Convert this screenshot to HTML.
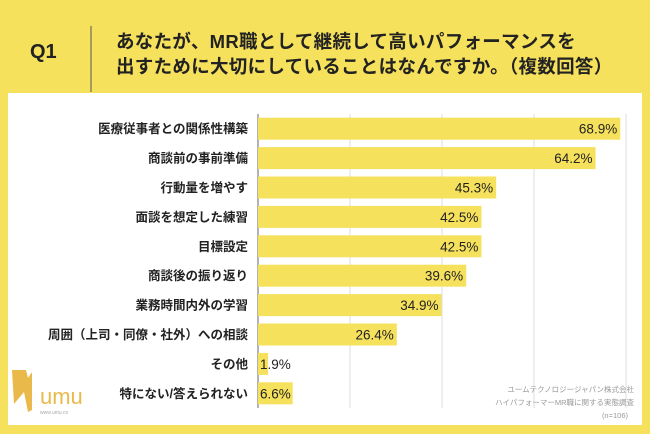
<!DOCTYPE html>
<html><head><meta charset="utf-8">
<style>
body{margin:0;width:650px;height:434px;overflow:hidden;background:#f6e15c;font-family:"Liberation Sans","Noto Sans CJK JP",sans-serif;}
svg{display:block}
</style></head><body>
<svg width="650" height="434" xmlns="http://www.w3.org/2000/svg">
<rect x="0" y="0" width="650" height="434" fill="#f6e15c"/>
<text x="30" y="58" font-size="20" font-weight="bold" fill="#222">Q1</text>
<line x1="91" y1="26" x2="91" y2="92" stroke="#555" stroke-width="1"/>
<text x="116" y="48" font-size="18.5" font-weight="bold" fill="#222" letter-spacing="0.3">あなたが、MR職として継続して高いパフォーマンスを</text>
<text x="116" y="73" font-size="18.5" font-weight="bold" fill="#222" letter-spacing="0.3">出すために大切にしていることはなんですか。（複数回答）</text>
<rect x="8" y="93" width="634" height="332" fill="#fff"/>
<g id="grid"></g><g id="bars"></g>
<g>
<path d="M12 370 L26 370 L28 378 L32 372 L32 410 L28 412 L24 392 L14 404 Z" fill="#e9b94a"/>
<text x="40" y="404" font-size="22" fill="#e9b94a">umu</text>
<text x="40" y="414" font-size="5" fill="#aaa">www.umu.co</text>
</g>
<text x="634" y="392" font-size="7.5" fill="#999" text-anchor="end">ユームテクノロジージャパン株式会社</text>
<text x="634" y="405" font-size="7.5" fill="#999" text-anchor="end">ハイパフォーマーMR職に関する実態調査</text>
<text x="628" y="418" font-size="7.5" fill="#999" text-anchor="end">(n=106)</text>
</svg>
<script>
const categories=["医療従事者との関係性構築","商談前の事前準備","行動量を増やす","面談を想定した練習","目標設定","商談後の振り返り","業務時間内外の学習","周囲（上司・同僚・社外）への相談","その他","特にない/答えられない"];
const values=[68.9,64.2,45.3,42.5,42.5,39.6,34.9,26.4,1.9,6.6];
const ticks=[0,17.5,35,52.5,70];
const NS="http://www.w3.org/2000/svg";
const x0=258,x1=626,xmax=70,y0=114,rowH=29.4,barH=22;
const xs=v=>x0+(x1-x0)*v/xmax;
const ys=i=>y0+i*rowH;
function mk(t,a,p){const e=document.createElementNS(NS,t);for(const k in a)e.setAttribute(k,a[k]);p.appendChild(e);return e;}
const g=document.getElementById('grid'),b=document.getElementById('bars');
ticks.forEach((t,i)=>{const l=mk('line',{x1:xs(t),x2:xs(t),y1:y0,y2:ys(categories.length)},g);
l.setAttribute('stroke',i==0?'#666':'#ddd');

});
categories.forEach((c,i)=>{const y=ys(i)+(rowH-barH)/2;
const r=mk('rect',{x:x0,y:y,width:xs(values[i])-x0,height:barH,fill:'#f6e15c'},b);


const lb=mk('text',{x:248,y:y+barH/2+4.5,'font-size':12.5,'font-weight':'bold',fill:'#222','text-anchor':'end'},b);lb.textContent=c;


const small=values[i]<10;
const v=mk('text',{x:small?x0+2:xs(values[i])-3,y:y+barH/2+5,'font-size':13.5,fill:'#222','text-anchor':small?'start':'end'},b);v.textContent=values[i].toFixed(1)+'%';

});
</script>
</body></html>
